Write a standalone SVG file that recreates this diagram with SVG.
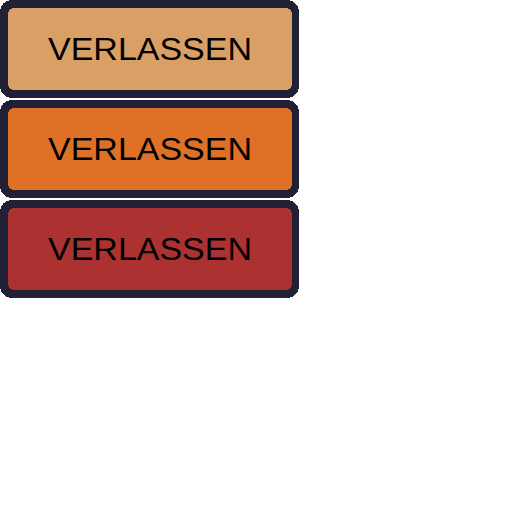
<svg xmlns="http://www.w3.org/2000/svg" width="512" height="512" viewBox="0 0 512 512">
  <style>
    .outer { fill: #222034; shape-rendering: crispEdges; }
    .lbl { font-family: "Liberation Sans", "DejaVu Sans", sans-serif; font-size: 32px; fill: #000000; text-anchor: middle; }
  </style>
  <rect width="512" height="512" fill="#ffffff"/>
  <g id="button-tan">
    <rect class="outer" x="0" y="0" width="299" height="98" rx="12"/>
    <rect x="8" y="8" width="284" height="82" rx="6" fill="#D9A066" shape-rendering="crispEdges"/>
    <text class="lbl" x="150" y="60" textLength="204" lengthAdjust="spacingAndGlyphs">VERLASSEN</text>
  </g>
  <g id="button-orange">
    <rect class="outer" x="0" y="100" width="299" height="98" rx="12"/>
    <rect x="8" y="108" width="284" height="82" rx="6" fill="#DF7126" shape-rendering="crispEdges"/>
    <text class="lbl" x="150" y="160" textLength="204" lengthAdjust="spacingAndGlyphs">VERLASSEN</text>
  </g>
  <g id="button-red">
    <rect class="outer" x="0" y="200" width="299" height="98" rx="12"/>
    <rect x="8" y="208" width="284" height="82" rx="6" fill="#AC3232" shape-rendering="crispEdges"/>
    <text class="lbl" x="150" y="260" textLength="204" lengthAdjust="spacingAndGlyphs">VERLASSEN</text>
  </g>
  <g id="connectors"/>
</svg>
